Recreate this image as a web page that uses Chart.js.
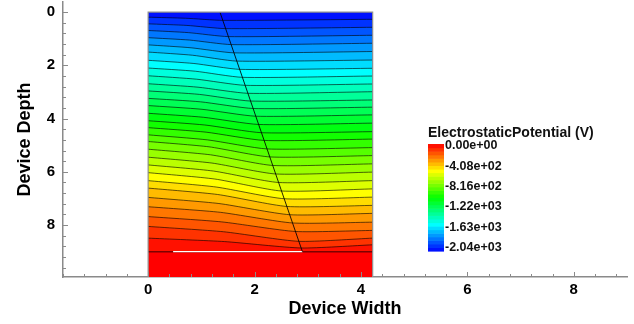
<!DOCTYPE html>
<html>
<head>
<meta charset="utf-8">
<script src="https://cdn.jsdelivr.net/npm/chart.js@4/dist/chart.umd.min.js"></script>
<style>
  html, body { margin: 0; padding: 0; background: #fff; }
  #wrap { width: 634px; height: 324px; }
</style>
</head>
<body>
<div id="wrap"><canvas id="c"></canvas></div>
<script>
// contour levels (V), one line each
var levels = [-1972, -1904, -1836, -1768, -1700, -1632, -1564, -1496, -1428, -1360,
              -1292, -1224, -1156, -1088, -1020, -952, -884, -816, -748, -680,
              -612, -544, -476, -408, -340, -272, -204, -136, -68];
var vMin = -2040, vMax = 0;

// depth of each contour line at x = 0, halfway to the slanted line, on it, and at the right edge
var leftDepth  = [0.19, 0.44, 0.69, 0.96, 1.23, 1.50, 1.81, 2.10, 2.39, 2.69, 2.96, 3.24, 3.51, 3.80, 4.08,
                  4.34, 4.61, 4.86, 5.15, 5.45, 5.74, 6.03, 6.33, 6.61, 6.96, 7.31, 7.68, 8.05, 8.49];
var midDepth   = [0.23, 0.50, 0.77, 1.05, 1.34, 1.62, 1.93, 2.22, 2.52, 2.82, 3.09, 3.37, 3.65, 3.95, 4.24,
                  4.51, 4.80, 5.06, 5.36, 5.67, 5.97, 6.27, 6.57, 6.85, 7.19, 7.52, 7.88, 8.25, 8.62];
var kinkDepth  = [0.31, 0.62, 0.92, 1.22, 1.53, 1.84, 2.15, 2.45, 2.75, 3.05, 3.34, 3.62, 3.91, 4.22, 4.53,
                  4.82, 5.14, 5.44, 5.76, 6.08, 6.40, 6.72, 7.01, 7.30, 7.61, 7.92, 8.24, 8.61, 8.86];
var rightDepth = [0.27, 0.57, 0.87, 1.17, 1.48, 1.80, 2.11, 2.40, 2.70, 2.99, 3.30, 3.57, 3.86, 4.17, 4.49,
                  4.77, 5.09, 5.39, 5.70, 6.01, 6.33, 6.64, 6.95, 7.26, 7.56, 7.89, 8.20, 8.49, 8.74];

var deviceWidth = 4.22;
var junctionDepth = 9;
var bottomDepth = 9.95;
var diagX = [1.35, 2.9];
var diagY = [0, 9];
var whiteX = [0.47, 2.9];

var xLabels = [0, 2, 4, 6, 8];
var yLabels = [0, 2, 4, 6, 8];
var cbarTitle = 'ElectrostaticPotential (V)';
var cbarLabels = ['0.00e+00', '-4.08e+02', '-8.16e+02', '-1.22e+03', '-1.63e+03', '-2.04e+03'];

function rainbow(v) {
    var t = (v - vMin) / (vMax - vMin);
    return 'hsl(' + (240 * (1 - t)).toFixed(1) + ',100%,50%)';
}
function kinkX(d) {
    return diagX[0] + (diagX[1] - diagX[0]) * (d - diagY[0]) / (diagY[1] - diagY[0]);
}

var datasets = [];
// top band, filled down to the junction; each deeper line paints over it
datasets.push({
    data: [{x: 0, y: 0}, {x: deviceWidth, y: 0}],
    backgroundColor: rainbow((vMin + levels[0]) / 2),
    borderWidth: 0, fill: {value: junctionDepth}
});
for (var i = 0; i < levels.length; i++) {
    var kx = kinkX(kinkDepth[i]);
    var hi = i + 1 < levels.length ? levels[i + 1] : vMax;
    datasets.push({
        data: [{x: 0, y: leftDepth[i]}, {x: kx / 2, y: midDepth[i]},
               {x: kx, y: kinkDepth[i]}, {x: deviceWidth, y: rightDepth[i]}],
        backgroundColor: rainbow((levels[i] + hi) / 2),
        borderColor: 'rgba(0,0,0,0.6)', borderWidth: 1,
        fill: {value: junctionDepth}, tension: 0.2
    });
}
// substrate below the junction
datasets.push({
    data: [{x: 0, y: junctionDepth}, {x: deviceWidth, y: junctionDepth}],
    backgroundColor: rainbow(vMax), borderColor: 'rgba(110,0,0,0.9)', borderWidth: 1.5,
    fill: {value: bottomDepth}
});
datasets.push({
    data: [{x: whiteX[0], y: junctionDepth}, {x: whiteX[1], y: junctionDepth}],
    borderColor: '#ffffff', borderWidth: 1.3, fill: false
});
datasets.push({
    data: [{x: diagX[0], y: diagY[0]}, {x: diagX[1], y: diagY[1]}],
    borderColor: 'rgba(0,0,0,0.85)', borderWidth: 1, fill: false
});
datasets.push({
    data: [{x: 0, y: bottomDepth}, {x: 0, y: 0}, {x: deviceWidth, y: 0}, {x: deviceWidth, y: bottomDepth}],
    borderColor: '#909090', borderWidth: 1.2, fill: false
});
datasets.forEach(function (ds, k) {
    ds.order = datasets.length - k;
    ds.pointRadius = 0;
});

// tick marks point into the plot, every 0.4 with longer ones at the labels
var innerTicks = {
    id: 'innerTicks',
    afterDraw: function (chart) {
        var ctx = chart.ctx, xs = chart.scales.x, ys = chart.scales.y, a = chart.chartArea;
        var k, px, len;
        ctx.save();
        ctx.strokeStyle = '#8a8a8a';
        ctx.lineWidth = 1;
        ctx.beginPath();
        for (k = Math.ceil(xs.min / 0.4 - 1e-6); k * 0.4 <= xs.max + 1e-6; k++) {
            px = Math.round(xs.getPixelForValue(k * 0.4)) + 0.5;
            len = (k % 5 === 0) ? 5 : 3;
            ctx.moveTo(px, a.bottom);
            ctx.lineTo(px, a.bottom - len);
        }
        for (k = Math.ceil(ys.min / 0.4 - 1e-6); k * 0.4 <= ys.max + 1e-6; k++) {
            px = Math.round(ys.getPixelForValue(k * 0.4)) + 0.5;
            len = (k % 5 === 0) ? 5 : 3;
            ctx.moveTo(a.left, px);
            ctx.lineTo(a.left + len, px);
        }
        ctx.stroke();
        ctx.restore();
    }
};

var colorBar = {
    id: 'colorBar',
    afterDraw: function (chart) {
        var ctx = chart.ctx;
        var x0 = 428, w = 16, top = 144, bot = 251;
        var edges = [vMin].concat(levels, [vMax]);
        ctx.save();
        for (var j = 0; j < edges.length - 1; j++) {
            var y1 = bot - (edges[j] - vMin) / (vMax - vMin) * (bot - top);
            var y2 = bot - (edges[j + 1] - vMin) / (vMax - vMin) * (bot - top);
            ctx.fillStyle = rainbow((edges[j] + edges[j + 1]) / 2);
            ctx.fillRect(x0, y2, w, y1 - y2 + 0.6);
        }
        ctx.fillStyle = '#111';
        ctx.textAlign = 'left';
        ctx.textBaseline = 'middle';
        ctx.font = 'bold 14px "Liberation Sans", Arial, sans-serif';
        ctx.fillText(cbarTitle, 428, 133);
        ctx.font = 'bold 12.5px "Liberation Sans", Arial, sans-serif';
        for (var m = 0; m < cbarLabels.length; m++) {
            ctx.fillText(cbarLabels[m], 445, 146 + m * 20.3);
        }
        ctx.restore();
    }
};

Chart.defaults.font.family = '"Liberation Sans", Arial, sans-serif';
Chart.defaults.color = '#000';

new Chart(document.getElementById('c'), {
    type: 'line',
    data: {datasets: datasets},
    plugins: [innerTicks, colorBar],
    options: {
        responsive: true,
        maintainAspectRatio: false,
        animation: false,
        layout: {padding: {left: 0, right: 7, top: 2, bottom: 0}},
        plugins: {legend: {display: false}, tooltip: {enabled: false}},
        scales: {
            x: {
                type: 'linear', min: -1.6, max: 9.0,
                grid: {display: false, drawTicks: false},
                border: {display: true, color: '#8a8a8a', width: 1.5},
                afterBuildTicks: function (s) {
                    s.ticks = xLabels.map(function (v) { return {value: v}; });
                },
                ticks: {autoSkip: false, maxRotation: 0, padding: 4, font: {size: 15, weight: 'bold'}},
                title: {display: true, text: 'Device Width', font: {size: 18, weight: 'bold'},
                        padding: {top: 0, bottom: 4}},
                afterFit: function (s) { s.height = 47; s.paddingLeft = 0; s.paddingRight = 0; }
            },
            y: {
                type: 'linear', min: -0.38, max: bottomDepth, reverse: true,
                grid: {display: false, drawTicks: false},
                border: {display: true, color: '#8a8a8a', width: 1.5},
                afterBuildTicks: function (s) {
                    s.ticks = yLabels.map(function (v) { return {value: v}; });
                },
                ticks: {autoSkip: false, padding: 8, font: {size: 15, weight: 'bold'}},
                title: {display: true, text: 'Device Depth', font: {size: 18, weight: 'bold'},
                        padding: {top: 14, bottom: 0}},
                afterFit: function (s) { s.width = 63; s.paddingTop = 0; s.paddingBottom = 0; }
            }
        }
    }
});
</script>
</body>
</html>
